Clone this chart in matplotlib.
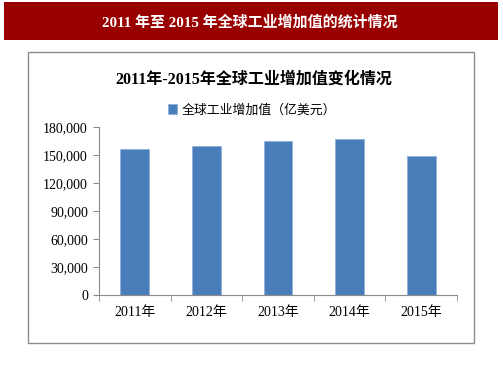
import matplotlib
matplotlib.use("Agg")
import matplotlib.pyplot as plt
from matplotlib.patches import Rectangle
from matplotlib.ticker import FuncFormatter

plt.rcParams['font.family'] = ['Liberation Serif', 'Noto Sans CJK SC']

years = ["2011年", "2012年", "2013年", "2014年", "2015年"]
values = [156700, 159600, 165000, 167100, 149200]
yticks = [0, 30000, 60000, 90000, 120000, 150000, 180000]

W, H = 503, 378
fig = plt.figure(figsize=(W / 100, H / 100), dpi=100)

# banner on top
fig.patches.append(Rectangle((4 / W, 1 - 40 / H), 494 / W, 38 / H,
                             transform=fig.transFigure, facecolor='#990000',
                             edgecolor='none', zorder=-1))
fig.text(250 / W, 1 - 22 / H, "2011 年至 2015 年全球工业增加值的统计情况",
         color='white', fontsize=10.8, fontweight='bold',
         ha='center', va='center')

# chart frame
fig.patches.append(Rectangle((28 / W, 1 - 343 / H), 446 / W, 291 / H,
                             transform=fig.transFigure, facecolor='none',
                             edgecolor='#8c8c8c', linewidth=1, zorder=-1))

fig.text(254 / W, 1 - 80 / H, "2011年-2015年全球工业增加值变化情况",
         fontsize=11.5, fontweight='bold', ha='center', va='center')

ax = fig.add_axes([99 / W, 1 - 295 / H, 358 / W, 168 / H])
ax.patch.set_alpha(0)
bars = ax.bar(range(len(years)), values, width=0.4, color='#4a7ebb',
              edgecolor='#8fb0da', linewidth=0.6, label='全球工业增加值（亿美元）')

ax.set_xlim(-0.5, len(years) - 0.5)
ax.set_ylim(0, 180000)
ax.set_yticks(yticks)
ax.yaxis.set_major_formatter(FuncFormatter(lambda v, p: f"{int(v):,}"))
ax.set_xticks(range(len(years)))
ax.set_xticklabels(years)
ax.set_xticks([i - 0.5 for i in range(len(years) + 1)], minor=True)
ax.tick_params(axis='x', which='major', length=0, pad=8, labelsize=10)
ax.tick_params(axis='x', which='minor', length=4, color='#8c8c8c')
ax.tick_params(axis='y', length=4, color='#8c8c8c', labelsize=10, pad=4)
for s in ['top', 'right']:
    ax.spines[s].set_visible(False)
for s in ['left', 'bottom']:
    ax.spines[s].set_color('#8c8c8c')

leg = fig.legend(handles=[bars], loc='center', bbox_to_anchor=(252 / W, 1 - 110 / H),
                 frameon=False, handlelength=0.7, handleheight=0.7,
                 handletextpad=0.4, prop={'family': ['Noto Sans CJK SC'], 'size': 9.3})

fig.savefig("out.png", dpi=100)
